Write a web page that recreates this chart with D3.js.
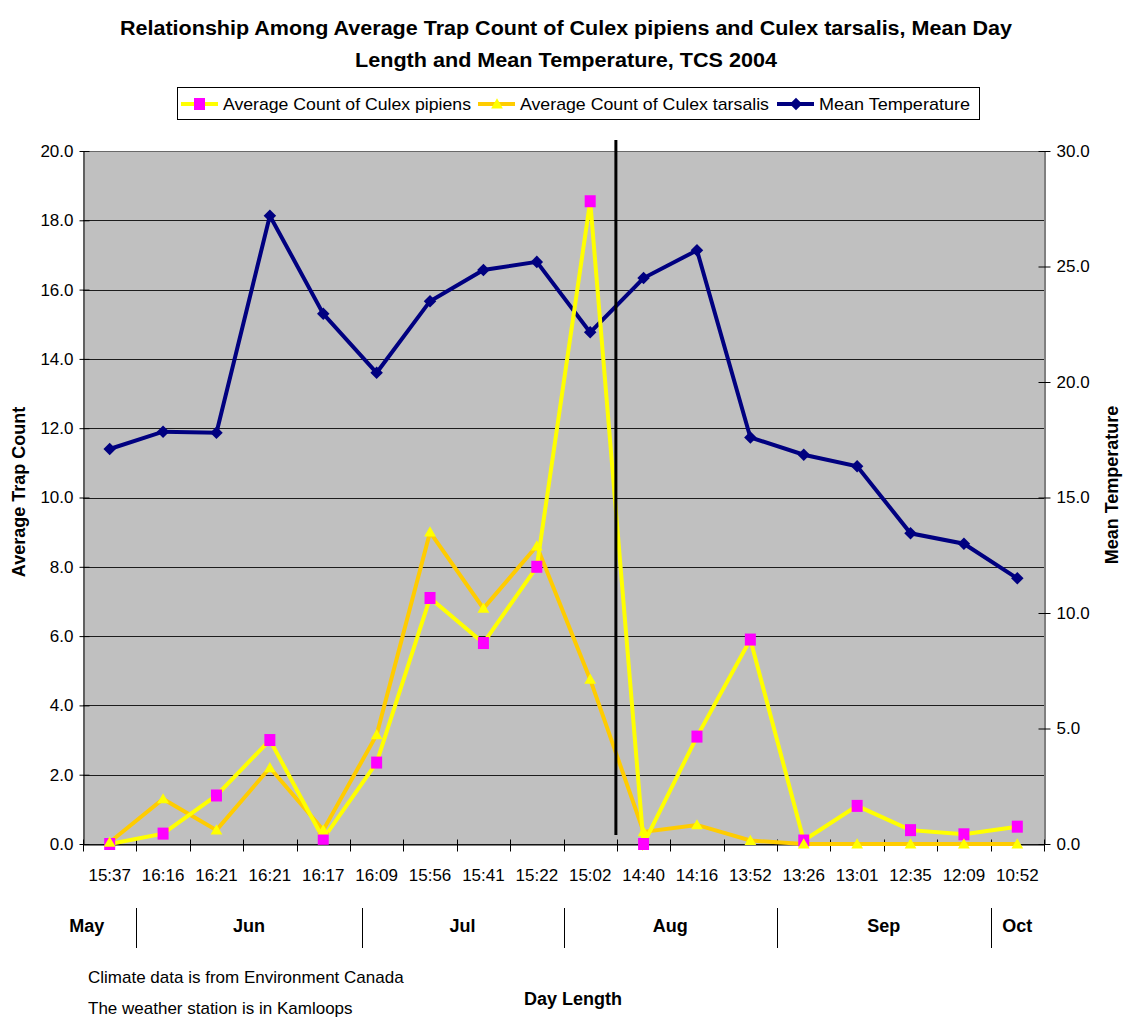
<!DOCTYPE html>
<html>
<head>
<meta charset="utf-8">
<script src="https://cdn.jsdelivr.net/npm/d3@7"></script>
<style>
  html, body { margin: 0; padding: 0; background: #fff; }
  svg text { font-family: "Liberation Sans", Arial, sans-serif; }
</style>
</head>
<body>
<svg id="chart" width="1123" height="1019"></svg>
<script>
const dayLengths = ["15:37","16:16","16:21","16:21","16:17","16:09","15:56","15:41","15:22","15:02","14:40","14:16","13:52","13:26","13:01","12:35","12:09","10:52"];
const pipiens   = [0.0, 0.3, 1.4, 3.0, 0.15, 2.35, 7.1, 5.8, 8.0, 18.55, 0.0, 3.1, 5.9, 0.1, 1.1, 0.4, 0.28, 0.5];
const tarsalis  = [0.05, 1.3, 0.4, 2.2, 0.4, 3.15, 9.0, 6.8, 8.6, 4.75, 0.35, 0.55, 0.1, 0.0, 0.0, 0.0, 0.0, 0.0];
const meanTemp  = [17.1, 17.85, 17.8, 27.2, 22.95, 20.4, 23.5, 24.85, 25.2, 22.15, 24.5, 25.7, 17.6, 16.85, 16.35, 13.45, 13.0, 11.5];
const leftTicks  = [0, 2, 4, 6, 8, 10, 12, 14, 16, 18, 20];
const rightTicks = [0, 5, 10, 15, 20, 25, 30];
const months      = ["May", "Jun", "Jul", "Aug", "Sep", "Oct"];
const monthStarts = [-0.86, 1, 5.22, 9, 13, 17, 18];   // in category-index units
const dividerIndex = 10;   // vertical marker line drawn before this category
const titleLines = ["Relationship Among Average Trap Count of Culex pipiens and Culex tarsalis, Mean Day",
                    "Length and Mean Temperature, TCS 2004"];
const seriesNames = ["Average Count of Culex pipiens", "Average Count of Culex tarsalis", "Mean Temperature"];
const notes = ["Climate data is from Environment Canada", "The weather station is in Kamloops"];

const svg = d3.select("#chart");
const plot = {left: 83, right: 1044, top: 151, bottom: 844};

const x = d3.scaleBand().domain(d3.range(dayLengths.length)).range([plot.left, plot.right]).padding(0);
const bw = x.bandwidth();
const cx = i => x(i) + bw / 2;
const xPos = v => plot.left + v * bw;   // continuous index position
const yL = d3.scaleLinear().domain([0, 20]).range([plot.bottom, plot.top]);
const yR = d3.scaleLinear().domain([0, 30]).range([plot.bottom, plot.top]);

// Title
svg.selectAll("text.title").data(titleLines).enter().append("text")
  .attr("class", "title")
  .attr("x", 566).attr("y", (d, i) => 35 + i * 32)
  .attr("text-anchor", "middle")
  .attr("font-size", 20).attr("font-weight", "bold")
  .attr("textLength", (d, i) => i === 0 ? 892 : 422)
  .attr("lengthAdjust", "spacingAndGlyphs")
  .text(d => d);

// Plot background
svg.append("rect").attr("x", plot.left).attr("y", plot.top)
  .attr("width", plot.right - plot.left).attr("height", plot.bottom - plot.top)
  .attr("fill", "#c0c0c0");

// Gridlines
svg.append("g").selectAll("line").data(leftTicks).enter().append("line")
  .attr("x1", plot.left).attr("x2", plot.right)
  .attr("y1", d => Math.round(yL(d)) + 0.5).attr("y2", d => Math.round(yL(d)) + 0.5)
  .attr("stroke", "#000").attr("stroke-width", 1)
  .attr("stroke-opacity", d => d === 20 ? 0.45 : 0.85);

// Left axis
const gL = svg.append("g").attr("transform", `translate(${plot.left + 0.5},0)`)
  .call(d3.axisLeft(yL).tickValues(leftTicks).tickFormat(d3.format(".1f")).tickSizeInner(4).tickSizeOuter(0).tickPadding(6));
gL.selectAll(".tick line").attr("x2", -4).attr("x1", 6);
// Right axis
const gR = svg.append("g").attr("transform", `translate(${plot.right + 0.5},0)`)
  .call(d3.axisRight(yR).tickValues(rightTicks).tickFormat(d3.format(".1f")).tickSizeInner(6).tickSizeOuter(0).tickPadding(6));
gR.selectAll(".tick line").attr("x1", -6);
[gL, gR].forEach(g => {
  g.select(".domain").attr("stroke", "#000");
  g.selectAll("text").attr("font-size", 17).attr("fill", "#000")
    .attr("font-family", "Liberation Sans, Arial, sans-serif");
});

// Bottom axis
const gB = svg.append("g").attr("transform", `translate(0,${plot.bottom + 0.5})`)
  .call(d3.axisBottom(x).tickFormat(i => dayLengths[i]).tickSize(0).tickPadding(24));
gB.select(".domain").attr("stroke", "#000");
gB.selectAll("text").attr("font-size", 17).attr("fill", "#000")
  .attr("font-family", "Liberation Sans, Arial, sans-serif");
gB.selectAll("line.bt").data(d3.range(dayLengths.length + 1)).enter().append("line")
  .attr("class", "bt")
  .attr("x1", i => Math.round(xPos(i)) + 0.5).attr("x2", i => Math.round(xPos(i)) + 0.5)
  .attr("y1", -5).attr("y2", 7).attr("stroke", "#000");

// Series lines
const lineL = d3.line().x((d, i) => cx(i)).y(d => yL(d));
const lineR = d3.line().x((d, i) => cx(i)).y(d => yR(d));

svg.append("path").datum(meanTemp).attr("d", lineR)
  .attr("fill", "none").attr("stroke", "#000080").attr("stroke-width", 4).attr("stroke-linejoin", "miter");
svg.append("g").selectAll("path").data(meanTemp).enter().append("path")
  .attr("d", d3.symbol(d3.symbolDiamond2, 100)())
  .attr("transform", (d, i) => `translate(${cx(i)},${yR(d)})`)
  .attr("fill", "#000080");

svg.append("path").datum(tarsalis).attr("d", lineL)
  .attr("fill", "none").attr("stroke", "#ffcc00").attr("stroke-width", 4);
svg.append("path").datum(pipiens).attr("d", lineL)
  .attr("fill", "none").attr("stroke", "#ffff00").attr("stroke-width", 4);

svg.append("g").selectAll("rect").data(pipiens).enter().append("rect")
  .attr("x", (d, i) => cx(i) - 5.5).attr("y", d => yL(d) - 6)
  .attr("width", 11).attr("height", 12).attr("fill", "#ff00ff");
svg.append("g").selectAll("path").data(tarsalis).enter().append("path")
  .attr("d", d3.symbol(d3.symbolTriangle, 60)())
  .attr("transform", (d, i) => `translate(${cx(i)},${yL(d) + 1})`)
  .attr("fill", "#ffff00");

// Vertical marker line
svg.append("line")
  .attr("x1", xPos(dividerIndex) - 1).attr("x2", xPos(dividerIndex) - 1)
  .attr("y1", plot.top - 11).attr("y2", plot.bottom - 9)
  .attr("stroke", "#000").attr("stroke-width", 3);

// Legend
const lg = svg.append("g");
lg.append("rect").attr("x", 177.5).attr("y", 87.5).attr("width", 802).attr("height", 32)
  .attr("fill", "#fff").attr("stroke", "#000");
const legX = [181, 478, 777];
const legW = [248, 249, 151];
const legLine = ["#ffff00", "#ffcc00", "#000080"];
seriesNames.forEach((name, k) => {
  const g = lg.append("g").attr("transform", `translate(${legX[k]},104)`);
  g.append("line").attr("x1", 0).attr("x2", 37).attr("stroke", legLine[k]).attr("stroke-width", 4);
  if (k === 0) g.append("rect").attr("x", 13).attr("y", -6).attr("width", 11).attr("height", 12).attr("fill", "#ff00ff");
  if (k === 1) g.append("path").attr("d", d3.symbol(d3.symbolTriangle, 60)()).attr("transform", "translate(19,1)").attr("fill", "#ffff00");
  if (k === 2) g.append("path").attr("d", d3.symbol(d3.symbolDiamond2, 100)()).attr("transform", "translate(19,0)").attr("fill", "#000080");
  g.append("text").attr("x", 42).attr("y", 6).attr("font-size", 17)
    .attr("textLength", legW[k]).attr("lengthAdjust", "spacingAndGlyphs").text(name);
});

// Axis titles
svg.append("text").attr("transform", "translate(25,492) rotate(-90)")
  .attr("text-anchor", "middle").attr("font-size", 18).attr("font-weight", "bold")
  .text("Average Trap Count");
svg.append("text").attr("transform", "translate(1118,485) rotate(-90)")
  .attr("text-anchor", "middle").attr("font-size", 18).attr("font-weight", "bold")
  .text("Mean Temperature");

// Month row
const mg = svg.append("g");
months.forEach((m, k) => {
  const c = xPos((monthStarts[k] + monthStarts[k + 1]) / 2);
  mg.append("text").attr("x", c).attr("y", 932).attr("text-anchor", "middle")
    .attr("font-size", 18).attr("font-weight", "bold").text(m);
});
mg.selectAll("line").data(monthStarts.slice(1, 6)).enter().append("line")
  .attr("x1", d => Math.round(xPos(d)) + 0.5).attr("x2", d => Math.round(xPos(d)) + 0.5)
  .attr("y1", 908).attr("y2", 948).attr("stroke", "#000").attr("stroke-width", 1);

// Notes
svg.selectAll("text.note").data(notes).enter().append("text")
  .attr("class", "note").attr("x", 88).attr("y", (d, i) => 983 + i * 31)
  .attr("font-size", 17).text(d => d);

svg.append("text").attr("x", 573).attr("y", 1005).attr("text-anchor", "middle")
  .attr("font-size", 18).attr("font-weight", "bold").text("Day Length");
</script>
</body>
</html>
